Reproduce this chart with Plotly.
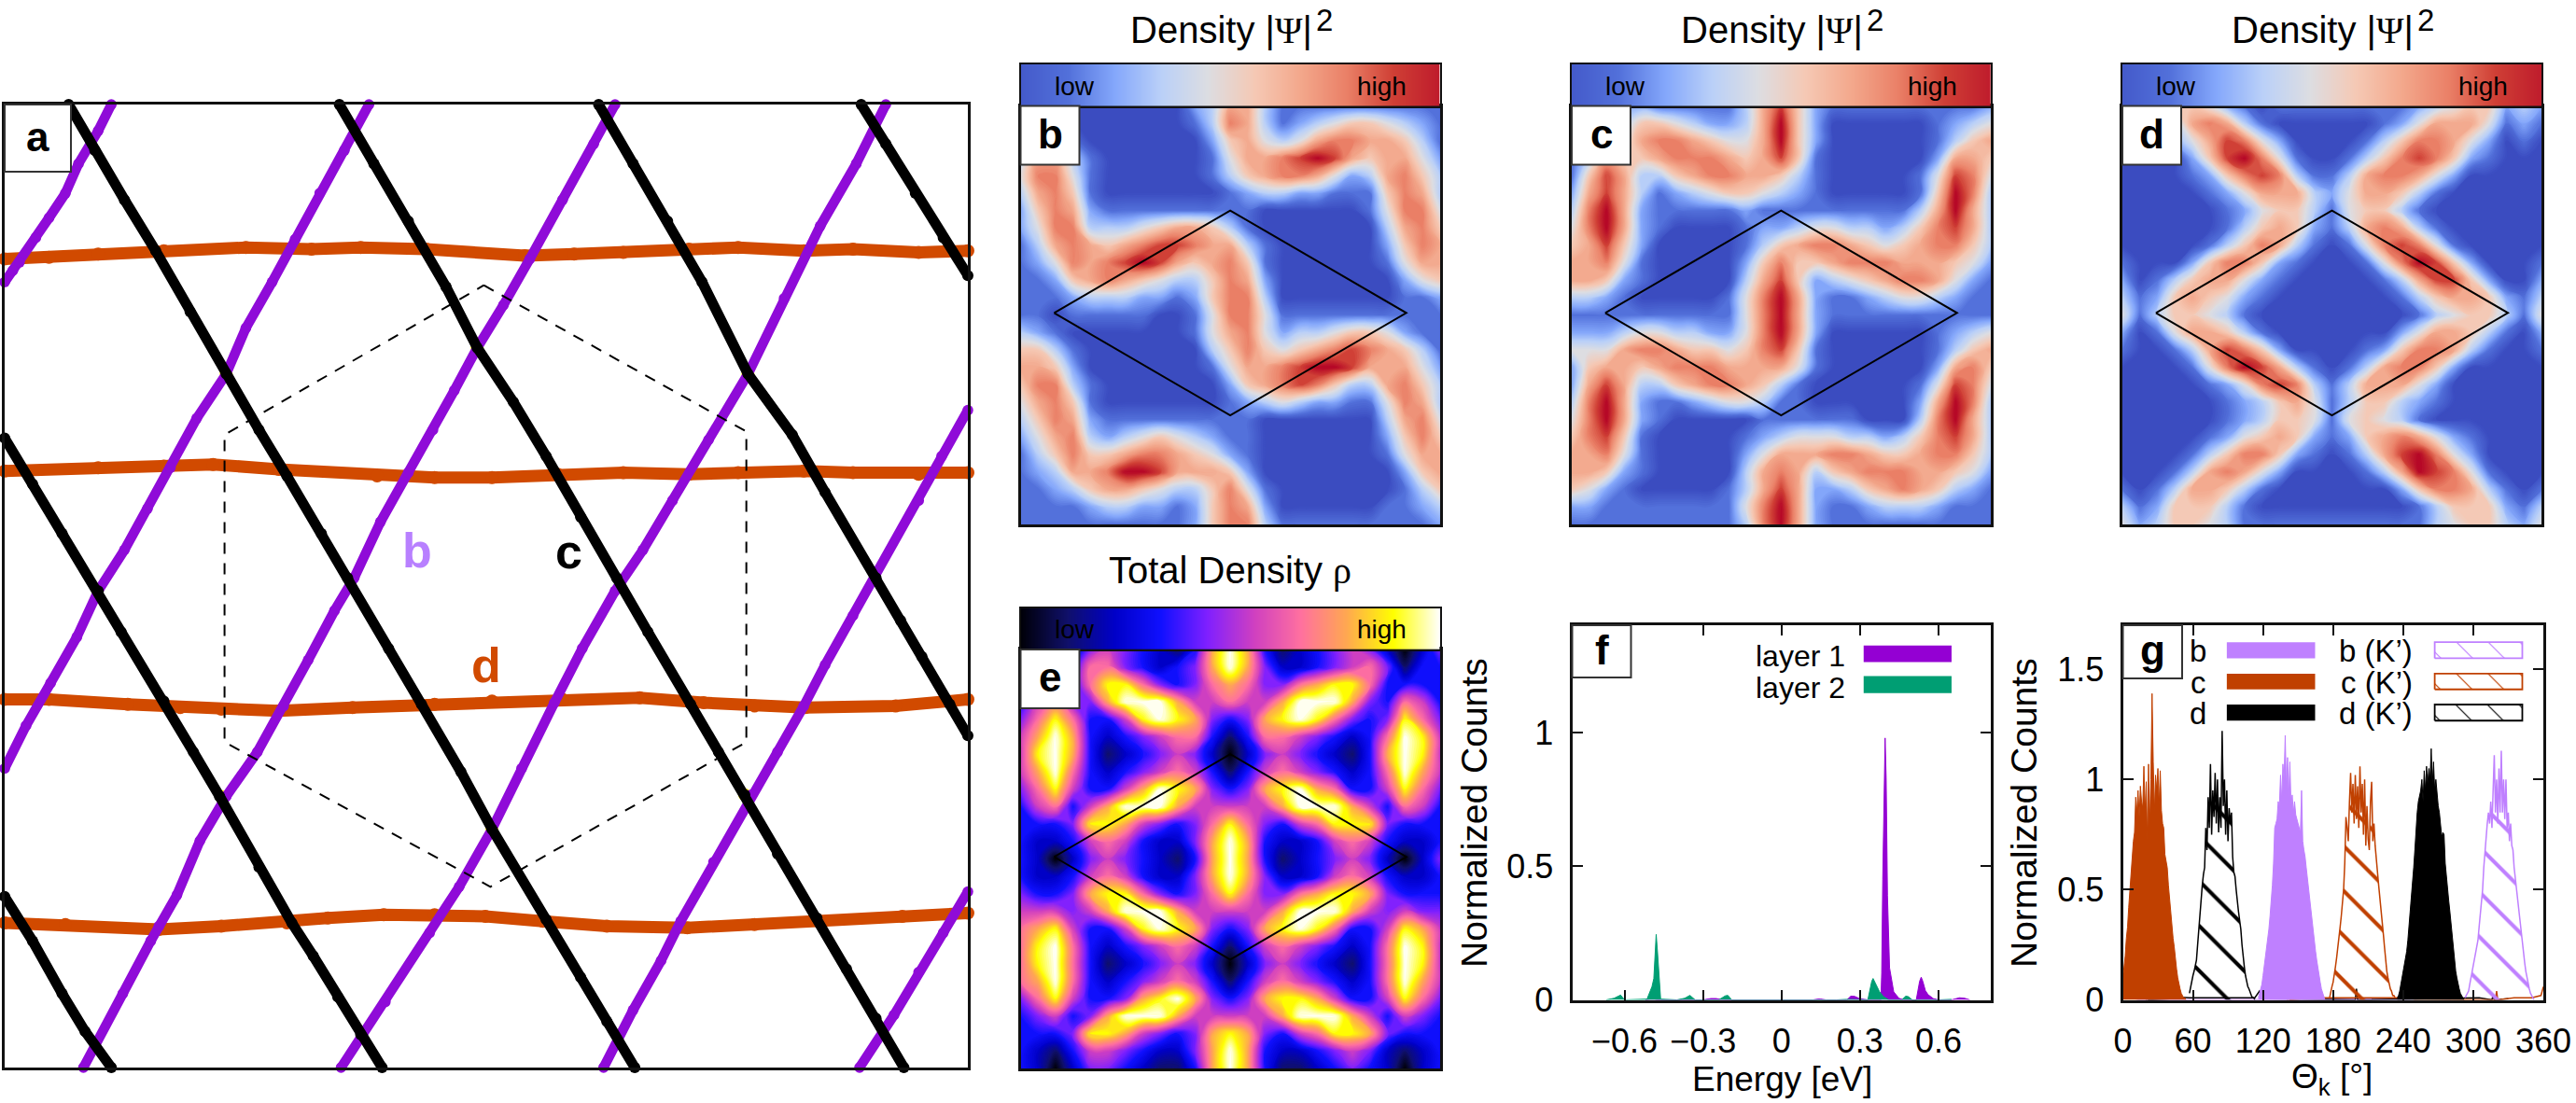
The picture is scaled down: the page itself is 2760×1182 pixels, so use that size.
import plotly.graph_objects as go

W, H = 2760, 1182
FONT = "Liberation Sans"

# ---------- panel a: real-space stripes (x, y read in reference coordinates)
AX_X = [3, 590]
AX_Y = [650, 64]
d1_x = [3, 30, 60, 100, 150, 190, 220, 260, 320, 350, 380, 420, 450, 490, 520, 560, 590]
d1_y = [158, 157, 155, 153, 151, 152, 151, 152, 156, 155, 154, 152, 151, 153, 152, 154, 153]
d2_x = [3, 60, 100, 130, 170, 230, 265, 300, 340, 380, 420, 450, 490, 520, 560, 590]
d2_y = [287, 285, 284, 283, 286, 290, 291, 291, 289, 288, 289, 288, 287, 288, 289, 288]
d3_x = [3, 30, 78, 110, 135, 170, 215, 265, 300, 343, 390, 429, 460, 491, 546, 590]
d3_y = [426, 426, 429, 431, 432, 433, 431, 429, 427, 426, 425, 428, 430, 431, 430, 426]
d4_x = [3, 40, 97, 135, 175, 200, 234, 265, 296, 331, 370, 419, 460, 499, 550, 590]
d4_y = [562, 563, 566, 564, 562, 559, 557, 557, 558, 561, 564, 565, 563, 561, 558, 556]
b1_x = [68, 60, 48, 40, 30, 22, 12, 8, 3]
b1_y = [64, 80, 100, 118, 133, 145, 160, 165, 172]
b2_x = [225, 210, 195, 180, 166, 150, 138, 120, 104, 90, 76, 60, 47, 31, 16, 3]
b2_y = [64, 92, 118, 146, 172, 200, 228, 255, 285, 310, 335, 360, 388, 416, 442, 468]
b3_x = [375, 362, 343, 323, 307, 291, 277, 264, 249, 232, 216, 204, 188, 173, 157, 138, 122, 108, 97, 92, 75, 51]
b3_y = [64, 88, 122, 158, 186, 212, 238, 262, 288, 318, 352, 372, 402, 430, 458, 485, 512, 545, 564, 573, 605, 650]
b4_x = [540, 522, 500, 478, 456, 432, 410, 392, 375, 355, 338, 318, 300, 280, 262, 235, 208]
b4_y = [64, 100, 138, 182, 228, 268, 305, 335, 360, 395, 428, 468, 505, 540, 568, 610, 650]
b5_x = [590, 574, 560, 533, 520, 503, 490, 474, 458, 435, 415, 403, 386, 368]
b5_y = [250, 278, 305, 352, 375, 405, 430, 458, 484, 525, 561, 585, 615, 650]
b6_x = [590, 575, 560, 545, 524]
b6_y = [543, 568, 592, 618, 650]
c1_x = [42, 58, 76, 95, 116, 138, 158, 175, 196, 212, 237, 257, 281, 300, 333, 354, 370, 387]
c1_y = [64, 92, 122, 153, 190, 228, 262, 290, 325, 352, 395, 429, 470, 505, 560, 595, 622, 650]
c2_x = [207, 228, 249, 272, 291, 313, 333, 354, 376, 395, 421, 438, 454, 474, 498, 516, 534, 551]
c2_y = [64, 100, 135, 175, 212, 245, 278, 315, 352, 385, 429, 458, 484, 520, 559, 590, 620, 650]
c3_x = [365, 386, 407, 428, 456, 483, 503, 534, 549, 562, 579, 590]
c3_y = [64, 100, 135, 172, 228, 265, 300, 352, 378, 400, 429, 448]
c4_x = [525, 540, 558, 575, 590]
c4_y = [64, 88, 118, 145, 168]
c5_x = [3, 20, 38, 60, 74, 100, 118, 134, 158, 178, 191, 206, 220, 233]
c5_y = [267, 295, 325, 360, 385, 427, 458, 485, 528, 562, 582, 607, 630, 650]
c6_x = [3, 20, 38, 52, 68]
c6_y = [546, 573, 605, 628, 650]
hex_x = [295, 455, 455, 299, 137, 137, 295]
hex_y = [174, 263, 452, 540, 452, 265, 174]
dot_x = [138, 291, 456, 135, 300, 454]
dot_y = [228, 212, 228, 485, 505, 484]

# ---------- density maps, levels 0..9, rows from top to bottom
B_ROWS = [
"1100000000236631111111111",
"1000000000137631234554321",
"2431000000025643467766531",
"3663100000014667898656642",
"4774100000013567764236753",
"3675100000001233221115763",
"2576211111111100000014774",
"2477333456653100000003675",
"1367656788766310000002576",
"1247678986567510000001466",
"1125676543357620000000245",
"1112333221257730000000112",
"1101111100147741111111111",
"3210000000146742334554211",
"5531000000035754567876531",
"6652000000014667899866642",
"5773100000002567875336753",
"4675100000001234322114763",
"3576211111111100000003674",
"2467323454321100000002575",
"1357556776542100000001466",
"1236679986665200000000256",
"1123566543357410000000135",
"1111233221257620000001123",
"1111111111257731111111112",
]
C_ROWS = [
"2222211111368521111111112",
"1223554322369520000001234",
"1234677654469520000001356",
"1365567776568510000002665",
"1586335677665310000014874",
"2686312345543210000015973",
"3796211111211111111136963",
"4796210000122344332357863",
"5685200000135677654567753",
"6674100000257556777666542",
"6652100000368523456776421",
"3321000001479621123443211",
"1111111111479621111111111",
"2223443322479620000001234",
"4446776554578510000001356",
"2566567776666410000002675",
"2686335677653100000014874",
"3796211234431100000026973",
"4796210000011111100037963",
"5785100000123444332357863",
"6674100000246667765567753",
"6652100000367635677766542",
"5421000001368622356765321",
"2211111111479621123332111",
"1111111111379621111111111",
]
D_ROWS = [
"1125542101111111123455232",
"0013676310000001246664121",
"0002468742000013577642010",
"0000258974100135787521000",
"0000125787311367764200000",
"0000012466632466531000000",
"0000001245531455310000000",
"0000001356521367631000000",
"0000013576310147874100000",
"1000257752100014798520001",
"2013566421000001368852002",
"3125654210000000135665213",
"4135543100000000013455314",
"2014665310000000246653102",
"1001368752000012577631001",
"0000147986310136775200000",
"0000012478731366642000000",
"0000001235641355321000000",
"0000001235541454310000000",
"0000012456521256764210000",
"0000135775210136897420000",
"0001367642000013698741000",
"1013665310000000257763101",
"3125553100000000013555213",
"4235543111111111113455324",
]
E_ROWS = [
"3202454321379731234542024",
"3333664323479742234564133",
"3443688643467644678863333",
"3564479997556557999743653",
"4686335898743478986434864",
"5797323456631366543236985",
"5897312345420245432137985",
"5796323456531356543236975",
"4685335798743478976335864",
"3563579997555557999753653",
"3334887543468643568884333",
"3223565322479732235653223",
"3202454321379731234542024",
"3223565322479742235653223",
"4334788643468644678874333",
"5554579997555557999754544",
"6785335898743478986335875",
"6896323456531356543236985",
"6896312345420245432136985",
"6796323456531356543236975",
"4685334789743478875335864",
"3453479997555557999753543",
"3334887543478743568874333",
"3213554322479732234542123",
"3202443211379731123432023",
]
BAR_COOL = [0.4, 1, 2, 3, 4, 5, 6, 7, 8, 8.6]
BAR_HOT = [0, 1, 2, 3, 4, 5, 6, 7, 8, 9]
rhomb_x = [0.08, 0.5, 0.92, 0.5, 0.08]
rhomb_y = [0.495, 0.25, 0.495, 0.74, 0.495]

# ---------- panel f: counts vs energy
l1_x = [-0.52, -0.505, -0.49, -0.475, -0.30, -0.27, -0.25, -0.22, 0.12, 0.14, 0.15, 0.17, 0.25, 0.265, 0.28, 0.30, 0.33,
        0.38, 0.383, 0.387, 0.392, 0.396, 0.40, 0.405, 0.413, 0.429, 0.449, 0.468, 0.515, 0.522, 0.528, 0.534, 0.54, 0.55, 0.56, 0.58, 0.60,
        0.65, 0.68, 0.70, 0.72]
l1_y = [0, 0.004, 0.006, 0, 0, 0.005, 0.005, 0, 0, 0.003, 0.003, 0, 0, 0.014, 0.013, 0.004, 0,
        0, 0.10, 0.45, 0.83, 0.98, 0.83, 0.39, 0.12, 0.03, 0.006, 0, 0, 0.04, 0.07, 0.085, 0.07, 0.035, 0.02, 0.005, 0,
        0, 0.008, 0.006, 0]
l2_x = [-0.67, -0.64, -0.615, -0.60, -0.514, -0.495, -0.488, -0.482, -0.479, -0.474, -0.468, -0.462,
        -0.40, -0.37, -0.35, -0.33, -0.24, -0.215, -0.205, -0.19, 0.21, 0.25, 0.33, 0.338, 0.345, 0.35, 0.36, 0.375, 0.39, 0.41,
        0.46, 0.475, 0.485, 0.50, 0.6, 0.65]
l2_y = [0, 0.006, 0.018, 0, 0.003, 0.05, 0.08, 0.23, 0.245, 0.18, 0.07, 0.003,
        0, 0.006, 0.017, 0, 0, 0.015, 0.017, 0, 0, 0.002, 0, 0.04, 0.07, 0.08, 0.06, 0.03, 0.012, 0,
        0, 0.014, 0.012, 0, 0, 0.002]

# ---------- panel g: counts vs angle
c_x = list(range(0, 55))
c_y = [.10,.14,.20,.28,.33,.42,.50,.58,.62,.72,.76,.92,.85,.95,.83,.97,.9,.87,1.06,.85,.99,.72,1.07,.80,1.00,1.39,1.08,.85,1.02,.95,1.05,.88,1.04,.86,.80,.78,.66,.62,.60,.52,.45,.40,.34,.28,.24,.18,.14,.10,.07,.05,.03,.02,.01,.01,0]
dk_x = list(range(57, 114))
dk_y = [.03,.06,.09,.11,.13,.15,.18,.25,.32,.42,.46,.52,.57,.60,.78,.68,.92,.78,1.07,.75,.95,.83,1.03,.80,1.0,.76,.92,.78,1.22,.88,1.0,.75,.95,.72,.87,.80,.85,.65,.58,.56,.50,.44,.40,.36,.32,.25,.19,.15,.11,.08,.06,.05,.03,.02,.01,.01,0]
b_x = list(range(116, 174))
b_y = [.01,.03,.05,.07,.11,.15,.19,.23,.27,.32,.38,.44,.52,.62,.78,.80,.82,.9,.88,1.02,.9,1.07,1.0,1.2,.95,1.1,.92,1.08,.88,.93,.85,.9,.84,.82,.80,.78,.76,.95,.72,.68,.65,.6,.55,.5,.46,.42,.37,.32,.27,.22,.18,.14,.11,.08,.05,.03,.02,0]
ck_x = list(range(177, 234))
ck_y = [.01,.04,.06,.08,.11,.15,.19,.23,.29,.33,.38,.44,.5,.62,.83,.78,.72,.9,1.03,.85,.98,.8,1.02,.82,.97,.78,1.06,.85,.98,.75,1.0,.7,.88,.73,.68,.9,.99,.72,.8,.7,.62,.58,.52,.47,.42,.36,.3,.24,.18,.13,.1,.07,.05,.04,.02,.02,.01]
d_x = list(range(235, 293))
d_y = [.01,.02,.04,.07,.1,.13,.16,.19,.22,.27,.33,.4,.46,.52,.6,.68,.8,.85,.9,.92,.95,1.0,.9,1.04,.95,1.06,.98,1.05,1.0,1.14,.98,1.08,.95,1.0,.92,.88,.85,.8,.74,.76,.75,.62,.55,.5,.45,.4,.34,.28,.22,.17,.13,.1,.07,.05,.03,.02,.01,0]
bk_x = list(range(293, 353))
bk_y = [.01,.02,.03,.04,.07,.1,.13,.16,.19,.22,.25,.27,.33,.38,.44,.5,.6,.68,.72,.8,.85,.8,.9,.78,.95,1.11,.85,1.0,.8,1.05,.85,1.13,.85,1.0,.82,1.0,.78,.85,.72,.8,.7,.68,.6,.55,.5,.45,.4,.35,.3,.26,.22,.17,.13,.1,.07,.05,.03,.02,.01,0]
low_black_x = [20, 21, 22, 40, 50, 57, 113, 117, 120, 124, 199, 200, 201, 300, 305, 316, 317, 318, 330]
low_black_y = [0, .015, 0, .005, .012, .01, .01, .04, .02, .005, 0, .05, 0, .01, .01, 0, .02, 0, .005]
low_orange_x = [141, 142, 143, 150, 160, 236, 239, 244, 250, 319, 320, 321, 335, 350, 358, 360]
low_orange_y = [0, .04, 0, .005, .01, .01, .04, .01, .003, 0, .04, 0, .01, .01, .02, .06]
low_lilac_x = [0, 3, 8, 14, 244, 260, 281]
low_lilac_y = [.05, .03, .01, 0, .003, .006, .004]

COOL = [[0, "#3b4cc0"], [.111, "#5270da"], [.222, "#84a7fb"], [.333, "#bad0f8"], [.444, "#dcdde2"],
        [.556, "#f5c9b5"], [.667, "#f3a88c"], [.778, "#ea8067"], [.889, "#cf3f35"], [1, "#b40426"]]
HOT = [[0, "#000008"], [.111, "#10106a"], [.222, "#0000c8"], [.333, "#1010ff"], [.444, "#8020ff"],
       [.556, "#d040c0"], [.667, "#ff70a0"], [.778, "#ffa850"], [.889, "#ffff00"], [1, "#ffffff"]]
PURPLE, GREEN, ORANGE, BROWN, LILAC = "#9400d3", "#009e73", "#d14a00", "#c04000", "#bf80ff"

fig = go.Figure()
layout = dict(template="none", width=W, height=H, margin=dict(l=0, r=0, t=0, b=0, pad=0, autoexpand=False), paper_bgcolor="white",
              plot_bgcolor="white", showlegend=False, font=dict(family=FONT, color="black"))
annots, shapes = [], []


def px(x):
    return x / W


def py(y):
    return 1 - y / H


def make_axes(n, x0, x1, y0, y1, xr, yr, **kw):
    base = dict(showgrid=False, zeroline=False, showline=True, mirror=True, linecolor="#111", linewidth=2.5,
                ticks="", showticklabels=False, automargin=False)
    xk = dict(base)
    yk = dict(base)
    xk.update(kw.get("x", {}))
    yk.update(kw.get("y", {}))
    layout[f"xaxis{n}"] = dict(domain=[px(x0), px(x1)], range=xr, anchor=f"y{n}", **xk)
    layout[f"yaxis{n}"] = dict(domain=[py(y1), py(y0)], range=yr, anchor=f"x{n}", **yk)
    return f"x{n}", f"y{n}"


def note(x, y, text, size, **kw):
    annots.append(dict(xref="paper", yref="paper", x=px(x), y=py(y), text=text, showarrow=False,
                       font=dict(family=FONT, size=size, color=kw.pop("color", "black")),
                       xanchor=kw.pop("xanchor", "center"), yanchor="middle", **kw))


def tag(x0, y0, x1, y1, letter):
    shapes.append(dict(type="rect", xref="paper", yref="paper", x0=px(x0), x1=px(x1), y0=py(y0), y1=py(y1),
                       fillcolor="white", line=dict(color="#333", width=2), layer="above"))
    note((x0 + x1) / 2, (y0 + y1) / 2 - 2, f"<b>{letter}</b>", 44)


# panel a
xa, ya = make_axes(1, 5, 1037, 112, 1144, AX_X, AX_Y)
for xs, ys in [(d1_x, d1_y), (d2_x, d2_y), (d3_x, d3_y), (d4_x, d4_y)]:
    fig.add_trace(go.Scatter(x=xs, y=ys, xaxis=xa, yaxis=ya, mode="lines+markers", cliponaxis=False,
                             line=dict(color=ORANGE, width=13), marker=dict(color=ORANGE, size=14)))
fig.add_trace(go.Scatter(x=dot_x, y=dot_y, xaxis=xa, yaxis=ya, mode="markers", marker=dict(color="#ffee00", size=14)))
for xs, ys in [(b1_x, b1_y), (b2_x, b2_y), (b3_x, b3_y), (b4_x, b4_y), (b5_x, b5_y), (b6_x, b6_y)]:
    fig.add_trace(go.Scatter(x=xs, y=ys, xaxis=xa, yaxis=ya, mode="lines+markers", cliponaxis=False,
                             line=dict(color="#8f0bd8", width=10.5), marker=dict(color="#8f0bd8", size=11.5)))
for xs, ys in [(c1_x, c1_y), (c2_x, c2_y), (c3_x, c3_y), (c4_x, c4_y), (c5_x, c5_y), (c6_x, c6_y)]:
    fig.add_trace(go.Scatter(x=xs, y=ys, xaxis=xa, yaxis=ya, mode="lines+markers", cliponaxis=False,
                             line=dict(color="black", width=11), marker=dict(color="black", size=12)))
fig.add_trace(go.Scatter(x=hex_x, y=hex_y, xaxis=xa, yaxis=ya, mode="lines", line=dict(color="black", width=2, dash="12px,10px")))
tag(5, 112, 76, 184, "a")
note(447, 590, "<b>b</b>", 52, color="#b880ff")
note(609, 591, "<b>c</b>", 52)
note(521, 713, "<b>d</b>", 52, color=ORANGE)

# density panels
grid = [i / 24 for i in range(25)]
psi = "Density |<span style=\"font-family:'Liberation Serif'\">Ψ</span>|"
rho = "Total Density <span style=\"font-family:'Liberation Serif'\">ρ</span>"
panels = [
    (2, 1093.5, 1542.7, 113.5, 561.7, 69, B_ROWS, COOL, BAR_COOL, "b", psi, 32),
    (3, 1684, 2132.7, 113.5, 561.7, 69, C_ROWS, COOL, BAR_COOL, "c", psi, 32),
    (4, 2274, 2723, 113.5, 561.7, 69, D_ROWS, COOL, BAR_COOL, "d", psi, 32),
    (5, 1093.5, 1542.7, 696, 1145, 651.7, E_ROWS, HOT, BAR_HOT, "e", rho, 611),
]
bar_n = 8
for n, x0, x1, y0, y1, bt, rows, scale, bar, letter, title, ty in panels:
    xk, yk = make_axes(n, x0, x1, y0, y1, [0, 1], [1, 0])
    z = [[int(ch) for ch in row] for row in rows]
    fig.add_trace(go.Contour(x=grid, y=grid, z=z, xaxis=xk, yaxis=yk, colorscale=scale, zmin=0, zmax=9,
                             autocontour=False, contours=dict(coloring="fill", start=0, end=9, size=0.12, showlines=False),
                             line=dict(width=0, smoothing=1.3), showscale=False, hoverinfo="skip"))
    fig.add_trace(go.Scatter(x=rhomb_x, y=rhomb_y, xaxis=xk, yaxis=yk, mode="lines", line=dict(color="black", width=2)))
    bx, by = make_axes(bar_n, x0, x1, bt, y0, [0, len(bar) - 1], [0, 1])
    layout[f"xaxis{bar_n}"]["linewidth"] = 2
    layout[f"yaxis{bar_n}"]["linewidth"] = 2
    fig.add_trace(go.Heatmap(x=list(range(len(bar))), y=[0, 1], z=[bar, bar], xaxis=bx, yaxis=by, colorscale=scale,
                             zmin=0, zmax=9, zsmooth="best", showscale=False, hoverinfo="skip"))
    bar_n += 1
    tag(x0, y0, x0 + 63, y0 + 63, letter)
    note(x0 + 57.5, (bt + y0) / 2 + 1, "low", 28)
    note(x0 + 386.5, (bt + y0) / 2 + 1, "high", 28)
    if letter == "e":
        note((x0 + x1) / 2, ty, title, 40)
    else:
        note(x0 + 214.5, ty, title, 40)
        note(x0 + 325, 22, "2", 33)

# panel f
tick = dict(ticks="inside", ticklen=11, tickwidth=2, tickcolor="#111", mirror="ticks", showticklabels=True,
            tickfont=dict(family=FONT, size=36, color="black"), linewidth=3, linecolor="#111")
xf, yf = make_axes(6, 1684.5, 2133, 670, 1071.5, [-0.8, 0.8], [0, 1.402],
                   x=dict(tick, tickvals=[-0.6, -0.3, 0, 0.3, 0.6], ticktext=["−0.6", "−0.3", "0", "0.3", "0.6"], ticklabelstandoff=10),
                   y=dict(tick, tickvals=[0, 0.5, 1], ticktext=["0", "0.5", "1"], ticklabelstandoff=10))
fig.add_trace(go.Scatter(x=l1_x, y=l1_y, xaxis=xf, yaxis=yf, mode="lines", fill="tozeroy", fillcolor=PURPLE, line=dict(color=PURPLE, width=1)))
fig.add_trace(go.Scatter(x=l2_x, y=l2_y, xaxis=xf, yaxis=yf, mode="lines", fill="tozeroy", fillcolor=GREEN, line=dict(color=GREEN, width=1)))
for sw_y0, sw_y1, color in [(1.264, 1.326, PURPLE), (1.148, 1.212, GREEN)]:
    fig.add_trace(go.Scatter(x=[0.314, 0.65, 0.65, 0.314, 0.314], y=[sw_y0, sw_y0, sw_y1, sw_y1, sw_y0], xaxis=xf, yaxis=yf,
                             mode="none", fill="toself", fillcolor=color))
tag(1684.5, 670, 1747.5, 726, "f")
note(1879, 703, "layer 1", 32, xanchor="left")
note(1879, 737, "layer 2", 32, xanchor="left")
note(1909, 1156, "Energy [eV]", 37)
note(1579, 871, "Normalized Counts", 39, textangle=-90)

# panel g
xg, yg = make_axes(7, 2274.5, 2725, 670, 1071.5, [0, 360], [0, 1.7],
                   x=dict(tick, tickvals=[0, 60, 120, 180, 240, 300, 360], ticktext=["0", "60", "120", "180", "240", "300", "360"], ticklabelstandoff=10),
                   y=dict(tick, tickvals=[0, 0.5, 1, 1.5], ticktext=["0", "0.5", "1", "1.5"], ticklabelstandoff=10))
for xs, ys, color in [(low_lilac_x, low_lilac_y, LILAC), (low_black_x, low_black_y, "black"), (low_orange_x, low_orange_y, BROWN)]:
    fig.add_trace(go.Scatter(x=xs, y=ys, xaxis=xg, yaxis=yg, mode="lines", line=dict(color=color, width=1.5)))
for xs, ys, color in [(c_x, c_y, BROWN), (b_x, b_y, LILAC), (d_x, d_y, "black")]:
    fig.add_trace(go.Scatter(x=xs, y=ys, xaxis=xg, yaxis=yg, mode="lines", fill="tozeroy", fillcolor=color, line=dict(color=color, width=1)))
hatch_c = dict(shape="\\", size=34, solidity=0.12, bgcolor="rgba(0,0,0,0)")
for xs, ys, color in [(dk_x, dk_y, "black"), (ck_x, ck_y, BROWN), (bk_x, bk_y, LILAC)]:
    fig.add_trace(go.Scatter(x=xs, y=ys, xaxis=xg, yaxis=yg, mode="lines", fill="tozeroy", fillcolor="rgba(0,0,0,0)",
                             fillpattern=dict(hatch_c, fgcolor=color), line=dict(color=color, width=1.5)))
rows_g = [(1.55, 1.623, LILAC), (1.409, 1.48, BROWN), (1.267, 1.34, "black")]
for v0, v1, color in rows_g:
    fig.add_trace(go.Scatter(x=[89, 164.6, 164.6, 89, 89], y=[v0, v0, v1, v1, v0], xaxis=xg, yaxis=yg, mode="none",
                             fill="toself", fillcolor=color))
    fig.add_trace(go.Scatter(x=[267, 342, 342, 267, 267], y=[v0, v0, v1, v1, v0], xaxis=xg, yaxis=yg, mode="lines",
                             fill="toself", fillcolor="rgba(0,0,0,0)", fillpattern=dict(hatch_c, size=24, solidity=0.05, fgcolor=color),
                             line=dict(color=color, width=1.8)))
tag(2274.5, 670, 2338, 727, "g")
for yy, name in [(697, "b"), (731, "c"), (764, "d")]:
    note(2366, yy, name, 33, xanchor="right")
    note(2587, yy, f"{name} (K’)", 33, xanchor="right")
note(2498, 1156, "Θ<sub>k</sub> [°]", 37)
note(2168, 871, "Normalized Counts", 39, textangle=-90)

layout["annotations"] = annots
layout["shapes"] = shapes
fig.update_layout(**layout)
fig.write_html("out.html", config={"displayModeBar": False}, post_script="document.body.style.margin='0';")
